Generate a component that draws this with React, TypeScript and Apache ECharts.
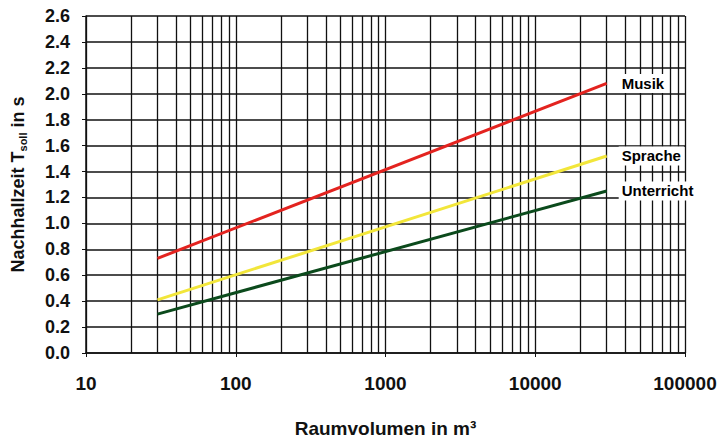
import React, { useEffect, useRef } from "react";
import * as echarts from "echarts";

const volumes = [30, 30000];
const musik = [0.73, 2.08];
const sprache = [0.41, 1.52];
const unterricht = [0.3, 1.25];
const seriesNames = ["Musik", "Sprache", "Unterricht"];
const seriesColors = ["#e3231f", "#f2e63a", "#0b4a1c"];
const decades = [10, 100, 1000, 10000];
const minorSteps = [2, 3, 4, 5, 6, 7, 8, 9];

const FONT = "Liberation Sans, Arial, sans-serif";

export default function App() {
  const ref = useRef<HTMLDivElement>(null);
  useEffect(() => {
    document.body.style.margin = "0";
    const chart = echarts.init(ref.current!, null, { renderer: "svg" });
    const minorLines: { xAxis: number }[] = [];
    decades.forEach((d) => minorSteps.forEach((s) => minorLines.push({ xAxis: d * s })));
    const values = [musik, sprache, unterricht];
    const series: any[] = values.map((vals, i) => ({
      name: seriesNames[i],
      type: "line",
      data: vals.map((v, j) => [volumes[j], v]),
      symbol: "none",
      lineStyle: { color: seriesColors[i], width: 3 },
      z: 5,
      endLabel: {
        show: true,
        formatter: seriesNames[i],
        color: "#000",
        fontFamily: FONT,
        fontWeight: "bold",
        fontSize: 15,
        backgroundColor: "#fff",
        padding: [2, 3],
        offset: [4, 0],
      },
    }));
    series[0].markLine = {
      silent: true,
      symbol: "none",
      label: { show: false },
      lineStyle: { color: "#111", width: 1.3, type: "solid" },
      data: minorLines,
      z: 1,
    };
    chart.setOption({
      animation: false,
      backgroundColor: "#fff",
      grid: { left: 86, right: 35, top: 16, bottom: 88, containLabel: false, outerBoundsMode: "none" },
      xAxis: {
        type: "log",
        logBase: 10,
        min: 10,
        max: 100000,
        axisLine: { show: true, onZero: false, lineStyle: { color: "#111", width: 1.5 } },
        axisTick: { show: true, length: 4, lineStyle: { color: "#111" } },
        splitLine: { show: true, lineStyle: { color: "#111", width: 1.3 } },
        axisLabel: {
          color: "#111",
          fontFamily: FONT,
          fontWeight: "bold",
          fontSize: 19,
          margin: 21,
          formatter: (v: number) => String(Math.round(v)),
        },
        name: "Raumvolumen in m³",
        nameLocation: "middle",
        nameGap: 66,
        nameTextStyle: {
          color: "#111",
          fontFamily: FONT,
          fontWeight: "bold",
          fontSize: 19,
        },
      },
      yAxis: {
        type: "value",
        min: 0,
        max: 2.6,
        interval: 0.2,
        axisLine: { show: true, lineStyle: { color: "#111", width: 1.5 } },
        axisTick: { show: true, length: 4, lineStyle: { color: "#111" } },
        splitLine: { show: true, lineStyle: { color: "#111", width: 1.6 } },
        axisLabel: {
          color: "#111",
          fontFamily: FONT,
          fontWeight: "bold",
          fontSize: 18,
          margin: 16,
          formatter: (v: number) => v.toFixed(1),
        },
        name: "{a|Nachhallzeit T}{sub|soll}{a| in s}",
        nameLocation: "middle",
        nameGap: 58,
        nameTextStyle: {
          color: "#111",
          fontFamily: FONT,
          fontWeight: "bold",
          fontSize: 18,
          rich: {
            a: {
              fontFamily: FONT,
              fontWeight: "bold",
              fontSize: 18,
              color: "#111",
            },
            sub: {
              fontFamily: FONT,
              fontWeight: "bold",
              fontSize: 11,
              color: "#111",
              verticalAlign: "bottom",
              padding: [9, 0, 0, 0],
            },
          },
        },
      },
      series,
    });
    return () => chart.dispose();
  }, []);
  return <div ref={ref} style={{ width: 720, height: 441 }} />;
}
